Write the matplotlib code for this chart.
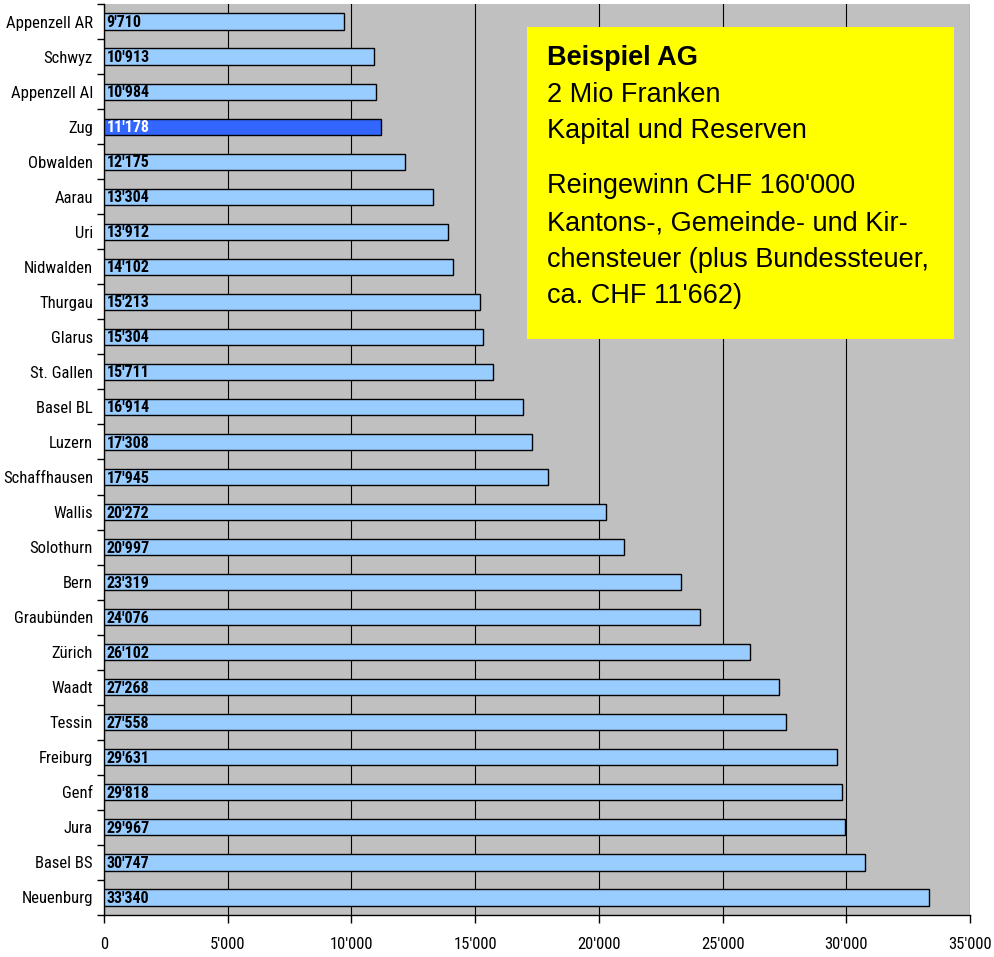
import matplotlib
matplotlib.use("Agg")
import matplotlib.pyplot as plt
from matplotlib.ticker import FuncFormatter, FixedLocator
import numpy as np

# Steuerbelastung je Kanton (CHF)
kantone = ["Appenzell AR", "Schwyz", "Appenzell AI", "Zug", "Obwalden", "Aarau",
           "Uri", "Nidwalden", "Thurgau", "Glarus", "St. Gallen", "Basel BL",
           "Luzern", "Schaffhausen", "Wallis", "Solothurn", "Bern", "Graubünden",
           "Zürich", "Waadt", "Tessin", "Freiburg", "Genf", "Jura", "Basel BS",
           "Neuenburg"]
steuer = [9710, 10913, 10984, 11178, 12175, 13304, 13912, 14102, 15213, 15304,
          15711, 16914, 17308, 17945, 20272, 20997, 23319, 24076, 26102, 27268,
          27558, 29631, 29818, 29967, 30747, 33340]
highlight = "Zug"

info_lines = ["Beispiel AG", "2 Mio Franken", "Kapital und Reserven",
              "Reingewinn CHF 160'000", "Kantons-, Gemeinde- und Kir-",
              "chensteuer (plus Bundessteuer,", "ca. CHF 11'662)"]
info_baselines = [65, 102, 138, 193, 230, 267, 303]

narrow = ["Roboto Condensed", "Liberation Sans Narrow", "DejaVu Sans"]
plt.rcParams['font.family'] = narrow
plt.rcParams['font.stretch'] = "condensed"


def fmt(v, pos=None):
    return "{:,.0f}".format(v).replace(",", "'")


fig = plt.figure(figsize=(9.94, 9.57), dpi=100)
ax = fig.add_axes([104 / 994, 1 - 915 / 957, 866 / 994, 911 / 957])
ax.set_facecolor("#C0C0C0")

y = np.arange(len(kantone))
colors = ["#3366FF" if k == highlight else "#99CCFF" for k in kantone]
ax.barh(y, steuer, height=0.46, color=colors, edgecolor="black", linewidth=1.0,
        zorder=3)

for yi, k, v in zip(y, kantone, steuer):
    ax.text(100, yi + 0.03, fmt(v), va="center", ha="left", fontsize=11.5,
            fontweight="bold", color="white" if k == highlight else "black",
            zorder=4)

ax.set_xlim(0, 35000)
ax.set_ylim(len(kantone) - 0.5, -0.5)
ax.set_xticks(np.arange(0, 35001, 5000))
ax.xaxis.set_major_formatter(FuncFormatter(fmt))
ax.set_yticks(y)
ax.set_yticklabels(kantone)
ax.yaxis.set_minor_locator(FixedLocator(np.arange(-0.5, len(kantone), 1)))
ax.tick_params(axis="y", which="major", length=0, pad=8, labelsize=12)
ax.tick_params(axis="y", which="minor", length=5, width=1)
ax.tick_params(axis="x", length=6, width=1, pad=10, labelsize=12)

ax.grid(axis="x", color="black", linewidth=0.8, zorder=1)
ax.set_axisbelow(True)
for s in ["top", "right"]:
    ax.spines[s].set_visible(False)
for s in ["left", "bottom"]:
    ax.spines[s].set_linewidth(1.0)

# Infobox
bx0, by0, bx1, by1 = 527, 27, 954, 339
box = fig.add_axes([bx0 / 994, 1 - by1 / 957, (bx1 - bx0) / 994, (by1 - by0) / 957])
box.set_facecolor("#FFFF00")
box.set_xticks([])
box.set_yticks([])
for s in box.spines.values():
    s.set_visible(False)

for i, (line, yb) in enumerate(zip(info_lines, info_baselines)):
    fig.text(547 / 994, 1 - yb / 957, line, va="baseline", ha="left",
             fontsize=19.5, family="Liberation Sans", stretch="normal",
             fontweight="bold" if i == 0 else "normal")

fig.savefig("out.png", dpi=100)
